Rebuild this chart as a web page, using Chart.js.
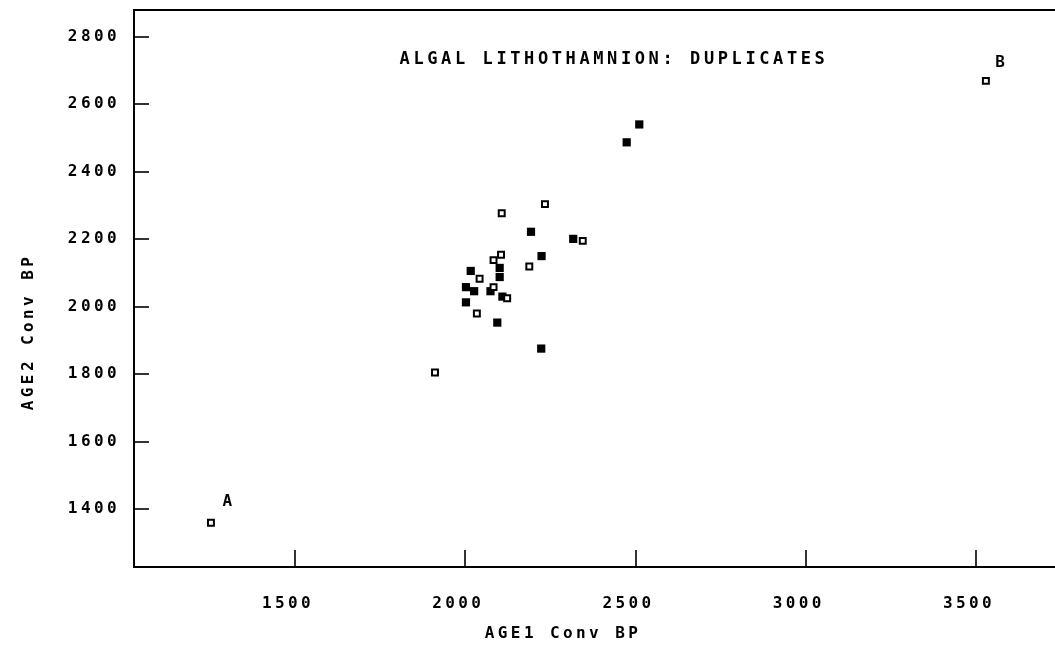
<!DOCTYPE html>
<html>
<head>
<meta charset="utf-8">
<script src="https://cdn.jsdelivr.net/npm/chart.js@4.4.1/dist/chart.umd.min.js"></script>
<style>
  html, body { margin: 0; padding: 0; background: #fff; overflow: hidden; }
  #wrap { width: 1055px; height: 647px; }
  canvas { display: block; }
</style>
</head>
<body>
<div id="wrap"><canvas id="grafico" width="1055" height="647"></canvas></div>
<script>
// duplicates: open squares
const abertoX = [2107, 2234, 2105, 2083, 2042, 2188, 2345, 2083, 2123, 2034, 1911, 1253, 3529];
const abertoY = [2277, 2304, 2154, 2138, 2083, 2119, 2195, 2058, 2025, 1980, 1805, 1360, 2669];
// duplicates: filled squares
const cheioX = [2193, 2317, 2224, 2101, 2101, 2016, 2002, 2026, 2074, 2109, 2002, 2094, 2223, 2511, 2474];
const cheioY = [2222, 2201, 2150, 2115, 2088, 2106, 2058, 2046, 2046, 2030, 2013, 1953, 1876, 2540, 2487];

const ticksX = [1500, 2000, 2500, 3000, 3500];
const ticksY = [1400, 1600, 1800, 2000, 2200, 2400, 2600, 2800];

// labelled points (A, B)
const rotulos = [
  { texto: "A", x: 1253, y: 1360, dx: 18, dy: -21 },
  { texto: "B", x: 3529, y: 2669, dx: 16, dy: -18 }
];

const titulo = "ALGAL LITHOTHAMNION: DUPLICATES";
const tituloX = "AGE1 Conv BP";
const tituloY = "AGE2 Conv BP";

const fonte = "DejaVu Sans Mono";

const pontos = (xs, ys) => xs.map((x, i) => ({ x: x, y: ys[i] }));

// Ticks para dentro, moldura de cima e textos
const desenhoExtra = {
  id: "desenhoExtra",
  beforeDraw(chart) {
    chart.ctx.letterSpacing = "3.4px";
  },
  afterDraw(chart) {
    const ctx = chart.ctx;
    const area = chart.chartArea;
    const sx = chart.scales.x;
    const sy = chart.scales.y;
    ctx.save();
    ctx.strokeStyle = "#000";
    ctx.lineWidth = 2;
    ctx.beginPath();
    ctx.moveTo(area.left, area.top);
    ctx.lineTo(area.right, area.top);
    ctx.stroke();

    ctx.lineWidth = 1.6;
    ticksY.forEach(v => {
      const py = Math.round(sy.getPixelForValue(v));
      ctx.beginPath();
      ctx.moveTo(area.left, py);
      ctx.lineTo(area.left + 15, py);
      ctx.stroke();
    });
    ticksX.forEach(v => {
      const px = Math.round(sx.getPixelForValue(v));
      ctx.beginPath();
      ctx.moveTo(px, area.bottom);
      ctx.lineTo(px, area.bottom - 17);
      ctx.stroke();
    });

    ctx.fillStyle = "#000";
    ctx.textAlign = "center";
    ctx.textBaseline = "middle";

    ctx.letterSpacing = "3.6px";
    ctx.font = "bold 17px " + fonte;
    ctx.fillText(titulo, 614, 60);

    ctx.letterSpacing = "3.4px";
    ctx.font = "bold 16px " + fonte;
    ctx.fillText(tituloX, 563, 634);

    rotulos.forEach(r => {
      ctx.fillText(r.texto, sx.getPixelForValue(r.x) + r.dx, sy.getPixelForValue(r.y) + r.dy);
    });

    ctx.save();
    ctx.translate(29, 332);
    ctx.rotate(-Math.PI / 2);
    ctx.fillText(tituloY, 0, 0);
    ctx.restore();

    ctx.restore();
  }
};

const ctx = document.getElementById("grafico").getContext("2d");
const grafico = new Chart(ctx, {
  type: "scatter",
  data: {
    datasets: [
      {
        label: "aberto",
        data: pontos(abertoX, abertoY),
        pointStyle: "rect",
        pointRadius: 4.2,
        backgroundColor: "#fff",
        borderColor: "#000",
        borderWidth: 2
      },
      {
        label: "cheio",
        data: pontos(cheioX, cheioY),
        pointStyle: "rect",
        pointRadius: 5.8,
        backgroundColor: "#000",
        borderColor: "#000",
        borderWidth: 0
      }
    ]
  },
  options: {
    responsive: false,
    animation: false,
    devicePixelRatio: 1,
    layout: { autoPadding: false, padding: { left: 0, top: 10, right: 0, bottom: 0 } },
    plugins: {
      legend: { display: false },
      tooltip: { enabled: false }
    },
    scales: {
      x: {
        type: "linear",
        min: 1027,
        max: 3732,
        afterBuildTicks: s => { s.ticks = ticksX.map(v => ({ value: v })); },
        afterFit: s => { s.height = 80; s.paddingLeft = 0; s.paddingRight = 0; },
        grid: { display: false, drawTicks: false },
        border: { display: true, color: "#000", width: 2 },
        ticks: {
          color: "#000",
          padding: 27,
          labelOffset: -7,
          font: { family: fonte, size: 16, weight: "bold" },
          maxRotation: 0,
          callback: v => String(v)
        }
      },
      y: {
        type: "linear",
        min: 1229,
        max: 2879,
        afterBuildTicks: s => { s.ticks = ticksY.map(v => ({ value: v })); },
        afterFit: s => { s.width = 134; s.paddingTop = 0; s.paddingBottom = 0; },
        grid: { display: false, drawTicks: false },
        border: { display: true, color: "#000", width: 2 },
        ticks: {
          color: "#000",
          padding: 14,
          font: { family: fonte, size: 16, weight: "bold" },
          callback: v => String(v)
        }
      }
    }
  },
  plugins: [desenhoExtra]
});
</script>
</body>
</html>
